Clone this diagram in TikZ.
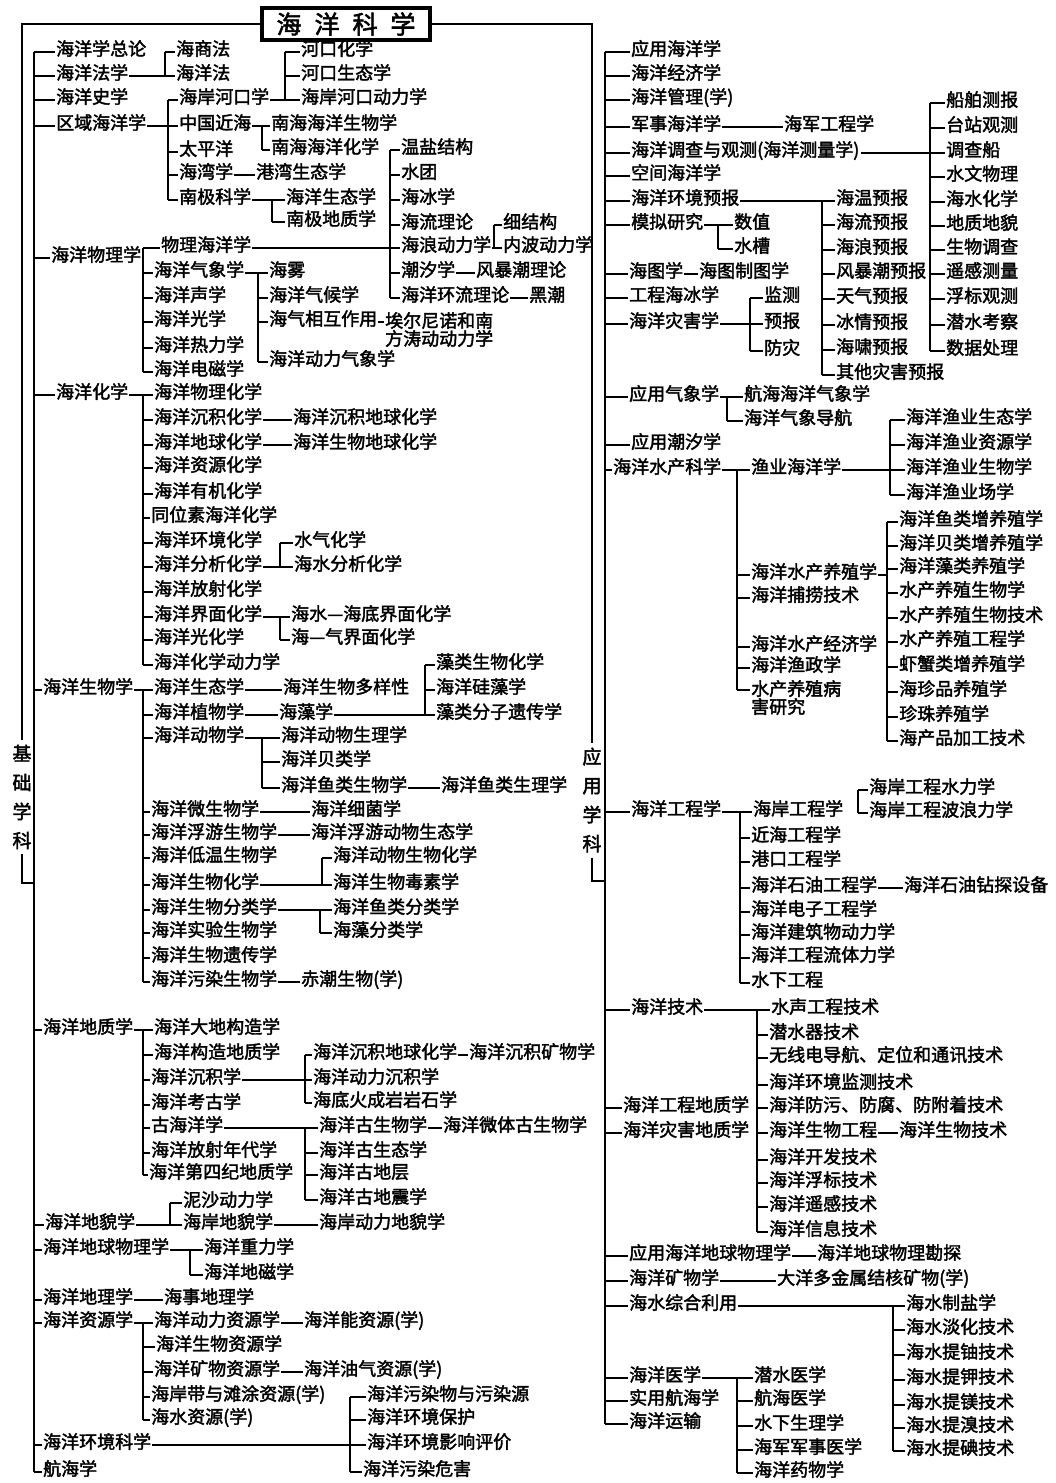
\documentclass[tikz,border=0pt]{standalone}
\usepackage{fontspec}
\setmainfont{Noto Sans CJK SC}[FakeBold=2.2]
\usetikzlibrary{calc}
\newcommand{\ocsize}{\fontsize{18}{18}\selectfont}
\newcommand{\octitlesize}{\fontsize{25}{26}\selectfont}
\newcommand{\ocsidesize}{\fontsize{19}{29}\selectfont}
\tikzset{
  ocbase/.style={anchor=west, inner xsep=1pt, inner ysep=0pt, font=\ocsize},
  ocitem/.style={ocbase, text height=0.84em, text depth=0.16em},
  ocwrap/.style={ocbase, anchor=north west, align=left},
  oclink/.style={line width=1.8pt},
  octitle/.style={draw, line width=3.2pt, minimum width=168pt, minimum height=32pt, inner sep=0pt, font=\octitlesize},
  ocside/.style={align=center, inner xsep=0pt, inner ysep=5pt, font=\ocsidesize}
}
\begin{document}
\begin{tikzpicture}[x=1pt,y=-1pt]
  \useasboundingbox (0,0) rectangle (1055,1483);

  \node[octitle] (title) at (346,24) {海\hspace{13pt}洋\hspace{13pt}科\hspace{13pt}学};
  \node[ocside] (lside) at (22,797) {基\\础\\学\\科};
  \node[ocside] (rside) at (592,800) {应\\用\\学\\科};
  \coordinate (kL) at (34,0);
  \coordinate (jL) at (34,883);
  \coordinate (kR) at (605,0);
  \coordinate (jR) at (605,881);
  \draw[oclink] (title.west) -| (lside.north);
  \draw[oclink] (lside.south) |- (jL);
  \draw[oclink] (title.east) -| (rside.north);
  \draw[oclink] (rside.south) |- (jR);

  % 基础学科
  \node[ocitem] (L1) at (55,52) {海洋学总论};
  \node[ocitem] (L2) at (55,76) {海洋法学};
  \node[ocitem] (L3) at (55,100) {海洋史学};
  \node[ocitem] (L4) at (55,126) {区域海洋学};
  \node[ocitem] (L5) at (50,258) {海洋物理学};
  \node[ocitem] (L6) at (55,395) {海洋化学};
  \node[ocitem] (L7) at (42,690) {海洋生物学};
  \node[ocitem] (L8) at (42,1030) {海洋地质学};
  \node[ocitem] (L9) at (44,1225) {海洋地貌学};
  \node[ocitem] (L10) at (42,1250) {海洋地球物理学};
  \node[ocitem] (L11) at (42,1300) {海洋地理学};
  \node[ocitem] (L12) at (42,1323) {海洋资源学};
  \node[ocitem] (L13) at (42,1445) {海洋环境科学};
  \node[ocitem] (L14) at (42,1472) {航海学};
  \draw[oclink] (kL |- L1.west) -- (kL |- L14.west);
  \foreach \n in {L1,L2,L3,L4,L5,L6,L7,L8,L9,L10,L11,L12,L13,L14}
    \draw[oclink] (kL |- \n.west) -- (\n.west);

  \coordinate (k2) at (165,0);
  \node[ocitem] (L2a) at (175,52) {海商法};
  \node[ocitem] (L2b) at (175,76) {海洋法};
  \draw[oclink] (L2.east) -- (L2.east -| k2);
  \draw[oclink] (k2 |- L2a.west) -- (k2 |- L2b.west);
  \foreach \n in {L2a,L2b} \draw[oclink] (k2 |- \n.west) -- (\n.west);

  \coordinate (k4) at (168,0);
  \node[ocitem] (L4a) at (178,100) {海岸河口学};
  \node[ocitem] (L4b) at (178,126) {中国近海};
  \node[ocitem] (L4c) at (178,152) {太平洋};
  \node[ocitem] (L4d) at (178,175) {海湾学};
  \node[ocitem] (L4e) at (178,200) {南极科学};
  \draw[oclink] (L4.east) -- (L4.east -| k4);
  \draw[oclink] (k4 |- L4a.west) -- (k4 |- L4e.west);
  \foreach \n in {L4a,L4b,L4c,L4d,L4e} \draw[oclink] (k4 |- \n.west) -- (\n.west);
  \node[ocitem] (L4d1) at (255,175) {港湾生态学};
  \draw[oclink] (L4d.east) -- (L4d1.west);

  \coordinate (k4a) at (285,0);
  \node[ocitem] (L4a1) at (300,52) {河口化学};
  \node[ocitem] (L4a2) at (300,76) {河口生态学};
  \node[ocitem] (L4a3) at (300,100) {海岸河口动力学};
  \draw[oclink] (L4a.east) -- (L4a.east -| k4a);
  \draw[oclink] (k4a |- L4a1.west) -- (k4a |- L4a3.west);
  \foreach \n in {L4a1,L4a2,L4a3} \draw[oclink] (k4a |- \n.west) -- (\n.west);

  \coordinate (k4b) at (262,0);
  \node[ocitem] (L4b1) at (270,126) {南海海洋生物学};
  \node[ocitem] (L4b2) at (270,150) {南海海洋化学};
  \draw[oclink] (L4b.east) -- (L4b.east -| k4b);
  \draw[oclink] (k4b |- L4b1.west) -- (k4b |- L4b2.west);
  \foreach \n in {L4b1,L4b2} \draw[oclink] (k4b |- \n.west) -- (\n.west);

  \coordinate (k4e) at (272,0);
  \node[ocitem] (L4e1) at (285,200) {海洋生态学};
  \node[ocitem] (L4e2) at (285,222) {南极地质学};
  \draw[oclink] (L4e.east) -- (L4e.east -| k4e);
  \draw[oclink] (k4e |- L4e1.west) -- (k4e |- L4e2.west);
  \foreach \n in {L4e1,L4e2} \draw[oclink] (k4e |- \n.west) -- (\n.west);

  \coordinate (k5) at (143,0);
  \node[ocitem] (L5a) at (160,248) {物理海洋学};
  \node[ocitem] (L5b) at (153,273) {海洋气象学};
  \node[ocitem] (L5c) at (153,298) {海洋声学};
  \node[ocitem] (L5d) at (153,322) {海洋光学};
  \node[ocitem] (L5e) at (153,348) {海洋热力学};
  \node[ocitem] (L5f) at (153,372) {海洋电磁学};
  \draw[oclink] (L5.east) -- (L5.east -| k5);
  \draw[oclink] (k5 |- L5a.west) -- (k5 |- L5f.west);
  \foreach \n in {L5a,L5b,L5c,L5d,L5e,L5f} \draw[oclink] (k5 |- \n.west) -- (\n.west);

  \coordinate (k5a) at (390,0);
  \node[ocitem] (L5a1) at (400,150) {温盐结构};
  \node[ocitem] (L5a2) at (400,175) {水团};
  \node[ocitem] (L5a3) at (400,200) {海冰学};
  \node[ocitem] (L5a4) at (400,225) {海流理论};
  \node[ocitem] (L5a5) at (400,248) {海浪动力学};
  \node[ocitem] (L5a6) at (400,273) {潮汐学};
  \node[ocitem] (L5a7) at (400,298) {海洋环流理论};
  \draw[oclink] (L5a.east) -- (L5a.east -| k5a);
  \draw[oclink] (k5a |- L5a1.west) -- (k5a |- L5a7.west);
  \foreach \n in {L5a1,L5a2,L5a3,L5a4,L5a5,L5a6,L5a7} \draw[oclink] (k5a |- \n.west) -- (\n.west);
  \coordinate (k5a5) at (494,0);
  \node[ocitem] (L5a5a) at (502,225) {细结构};
  \node[ocitem] (L5a5b) at (502,248) {内波动力学};
  \draw[oclink] (L5a5.east) -- (L5a5.east -| k5a5);
  \draw[oclink] (k5a5 |- L5a5a.west) -- (k5a5 |- L5a5b.west);
  \foreach \n in {L5a5a,L5a5b} \draw[oclink] (k5a5 |- \n.west) -- (\n.west);
  \node[ocitem] (L5a6a) at (475,273) {风暴潮理论};
  \draw[oclink] (L5a6.east) -- (L5a6a.west);
  \node[ocitem] (L5a7a) at (528,298) {黑潮};
  \draw[oclink] (L5a7.east) -- (L5a7a.west);

  \coordinate (k5b) at (258,0);
  \node[ocitem] (L5b1) at (268,273) {海雾};
  \node[ocitem] (L5b2) at (268,298) {海洋气候学};
  \node[ocitem] (L5b3) at (268,322) {海气相互作用};
  \node[ocitem] (L5b4) at (268,362) {海洋动力气象学};
  \draw[oclink] (L5b.east) -- (L5b.east -| k5b);
  \draw[oclink] (k5b |- L5b1.west) -- (k5b |- L5b4.west);
  \foreach \n in {L5b1,L5b2,L5b3,L5b4} \draw[oclink] (k5b |- \n.west) -- (\n.west);
  \node[ocwrap] (L5b3a) at (384,312) {埃尔尼诺和南\\方涛动动力学};
  \draw[oclink] (L5b3.east) -- (L5b3.east -| L5b3a.west);

  \coordinate (k6) at (143,0);
  \node[ocitem] (L6a) at (153,395) {海洋物理化学};
  \node[ocitem] (L6b) at (153,420) {海洋沉积化学};
  \node[ocitem] (L6c) at (153,445) {海洋地球化学};
  \node[ocitem] (L6d) at (153,468) {海洋资源化学};
  \node[ocitem] (L6e) at (153,494) {海洋有机化学};
  \node[ocitem] (L6f) at (150,518) {同位素海洋化学};
  \node[ocitem] (L6g) at (153,543) {海洋环境化学};
  \node[ocitem] (L6h) at (153,567) {海洋分析化学};
  \node[ocitem] (L6i) at (153,592) {海洋放射化学};
  \node[ocitem] (L6j) at (153,617) {海洋界面化学};
  \node[ocitem] (L6k) at (153,640) {海洋光化学};
  \node[ocitem] (L6l) at (153,665) {海洋化学动力学};
  \draw[oclink] (L6.east) -- (L6.east -| k6);
  \draw[oclink] (k6 |- L6a.west) -- (k6 |- L6l.west);
  \foreach \n in {L6a,L6b,L6c,L6d,L6e,L6f,L6g,L6h,L6i,L6j,L6k,L6l} \draw[oclink] (k6 |- \n.west) -- (\n.west);
  \node[ocitem] (L6b1) at (292,420) {海洋沉积地球化学};
  \draw[oclink] (L6b.east) -- (L6b1.west);
  \node[ocitem] (L6c1) at (292,445) {海洋生物地球化学};
  \draw[oclink] (L6c.east) -- (L6c1.west);
  \coordinate (k6h) at (280,0);
  \node[ocitem] (L6h1) at (293,543) {水气化学};
  \node[ocitem] (L6h2) at (293,567) {海水分析化学};
  \draw[oclink] (L6h.east) -- (L6h.east -| k6h);
  \draw[oclink] (k6h |- L6h1.west) -- (k6h |- L6h2.west);
  \foreach \n in {L6h1,L6h2} \draw[oclink] (k6h |- \n.west) -- (\n.west);
  \coordinate (k6j) at (280,0);
  \node[ocitem] (L6j1) at (290,617) {海水—海底界面化学};
  \node[ocitem] (L6j2) at (290,640) {海—气界面化学};
  \draw[oclink] (L6j.east) -- (L6j.east -| k6j);
  \draw[oclink] (k6j |- L6j1.west) -- (k6j |- L6j2.west);
  \foreach \n in {L6j1,L6j2} \draw[oclink] (k6j |- \n.west) -- (\n.west);

  \coordinate (k7) at (143,0);
  \node[ocitem] (L7a) at (153,690) {海洋生态学};
  \node[ocitem] (L7b) at (153,715) {海洋植物学};
  \node[ocitem] (L7c) at (153,738) {海洋动物学};
  \node[ocitem] (L7d) at (150,812) {海洋微生物学};
  \node[ocitem] (L7e) at (150,835) {海洋浮游生物学};
  \node[ocitem] (L7f) at (150,858) {海洋低温生物学};
  \node[ocitem] (L7g) at (150,885) {海洋生物化学};
  \node[ocitem] (L7h) at (150,910) {海洋生物分类学};
  \node[ocitem] (L7i) at (150,933) {海洋实验生物学};
  \node[ocitem] (L7j) at (150,958) {海洋生物遗传学};
  \node[ocitem] (L7k) at (150,982) {海洋污染生物学};
  \draw[oclink] (L7.east) -- (L7.east -| k7);
  \draw[oclink] (k7 |- L7a.west) -- (k7 |- L7k.west);
  \foreach \n in {L7a,L7b,L7c,L7d,L7e,L7f,L7g,L7h,L7i,L7j,L7k} \draw[oclink] (k7 |- \n.west) -- (\n.west);
  \node[ocitem] (L7a1) at (282,690) {海洋生物多样性};
  \draw[oclink] (L7a.east) -- (L7a1.west);
  \node[ocitem] (L7b1) at (278,715) {海藻学};
  \draw[oclink] (L7b.east) -- (L7b1.west);
  \coordinate (k7b) at (425,0);
  \node[ocitem] (L7b1a) at (435,665) {藻类生物化学};
  \node[ocitem] (L7b1b) at (435,690) {海洋硅藻学};
  \node[ocitem] (L7b1c) at (435,715) {藻类分子遗传学};
  \draw[oclink] (L7b1.east) -- (L7b1.east -| k7b);
  \draw[oclink] (k7b |- L7b1a.west) -- (k7b |- L7b1c.west);
  \foreach \n in {L7b1a,L7b1b,L7b1c} \draw[oclink] (k7b |- \n.west) -- (\n.west);
  \coordinate (k7c) at (262,0);
  \node[ocitem] (L7c1) at (280,738) {海洋动物生理学};
  \node[ocitem] (L7c2) at (280,762) {海洋贝类学};
  \node[ocitem] (L7c3) at (280,788) {海洋鱼类生物学};
  \draw[oclink] (L7c.east) -- (L7c.east -| k7c);
  \draw[oclink] (k7c |- L7c1.west) -- (k7c |- L7c3.west);
  \foreach \n in {L7c1,L7c2,L7c3} \draw[oclink] (k7c |- \n.west) -- (\n.west);
  \node[ocitem] (L7c3a) at (440,788) {海洋鱼类生理学};
  \draw[oclink] (L7c3.east) -- (L7c3a.west);
  \node[ocitem] (L7d1) at (310,812) {海洋细菌学};
  \draw[oclink] (L7d.east) -- (L7d1.west);
  \node[ocitem] (L7e1) at (310,835) {海洋浮游动物生态学};
  \draw[oclink] (L7e.east) -- (L7e1.west);
  \coordinate (k7g) at (322,0);
  \node[ocitem] (L7g1) at (332,858) {海洋动物生物化学};
  \node[ocitem] (L7g2) at (332,885) {海洋生物毒素学};
  \draw[oclink] (L7g.east) -- (L7g.east -| k7g);
  \draw[oclink] (k7g |- L7g1.west) -- (k7g |- L7g2.west);
  \foreach \n in {L7g1,L7g2} \draw[oclink] (k7g |- \n.west) -- (\n.west);
  \coordinate (k7h) at (320,0);
  \node[ocitem] (L7h1) at (332,910) {海洋鱼类分类学};
  \node[ocitem] (L7h2) at (332,933) {海藻分类学};
  \draw[oclink] (L7h.east) -- (L7h.east -| k7h);
  \draw[oclink] (k7h |- L7h1.west) -- (k7h |- L7h2.west);
  \foreach \n in {L7h1,L7h2} \draw[oclink] (k7h |- \n.west) -- (\n.west);
  \node[ocitem] (L7k1) at (300,982) {赤潮生物(学)};
  \draw[oclink] (L7k.east) -- (L7k1.west);

  \coordinate (k8) at (143,0);
  \node[ocitem] (L8a) at (153,1030) {海洋大地构造学};
  \node[ocitem] (L8b) at (153,1055) {海洋构造地质学};
  \node[ocitem] (L8c) at (150,1080) {海洋沉积学};
  \node[ocitem] (L8d) at (150,1105) {海洋考古学};
  \node[ocitem] (L8e) at (150,1128) {古海洋学};
  \node[ocitem] (L8f) at (150,1153) {海洋放射年代学};
  \node[ocitem] (L8g) at (148,1175) {海洋第四纪地质学};
  \draw[oclink] (L8.east) -- (L8.east -| k8);
  \draw[oclink] (k8 |- L8a.west) -- (k8 |- L8g.west);
  \foreach \n in {L8a,L8b,L8c,L8d,L8e,L8f,L8g} \draw[oclink] (k8 |- \n.west) -- (\n.west);
  \coordinate (k8c) at (305,0);
  \node[ocitem] (L8c1) at (312,1055) {海洋沉积地球化学};
  \node[ocitem] (L8c2) at (312,1080) {海洋动力沉积学};
  \node[ocitem] (L8c3) at (312,1103) {海底火成岩岩石学};
  \draw[oclink] (L8c.east) -- (L8c.east -| k8c);
  \draw[oclink] (k8c |- L8c1.west) -- (k8c |- L8c3.west);
  \foreach \n in {L8c1,L8c2,L8c3} \draw[oclink] (k8c |- \n.west) -- (\n.west);
  \node[ocitem] (L8c1a) at (468,1055) {海洋沉积矿物学};
  \draw[oclink] (L8c1.east) -- (L8c1a.west);
  \coordinate (k8e) at (305,0);
  \node[ocitem] (L8e1) at (318,1128) {海洋古生物学};
  \node[ocitem] (L8e2) at (318,1153) {海洋古生态学};
  \node[ocitem] (L8e3) at (318,1175) {海洋古地层};
  \node[ocitem] (L8e4) at (318,1200) {海洋古地震学};
  \draw[oclink] (L8e.east) -- (L8e.east -| k8e);
  \draw[oclink] (k8e |- L8e1.west) -- (k8e |- L8e4.west);
  \foreach \n in {L8e1,L8e2,L8e3,L8e4} \draw[oclink] (k8e |- \n.west) -- (\n.west);
  \node[ocitem] (L8e1a) at (442,1128) {海洋微体古生物学};
  \draw[oclink] (L8e1.east) -- (L8e1a.west);

  \coordinate (k9) at (170,0);
  \node[ocitem] (L9a) at (182,1203) {泥沙动力学};
  \node[ocitem] (L9b) at (182,1225) {海岸地貌学};
  \draw[oclink] (L9.east) -- (L9.east -| k9);
  \draw[oclink] (k9 |- L9a.west) -- (k9 |- L9b.west);
  \foreach \n in {L9a,L9b} \draw[oclink] (k9 |- \n.west) -- (\n.west);
  \node[ocitem] (L9b1) at (318,1225) {海岸动力地貌学};
  \draw[oclink] (L9b.east) -- (L9b1.west);

  \coordinate (k10) at (190,0);
  \node[ocitem] (L10a) at (203,1250) {海洋重力学};
  \node[ocitem] (L10b) at (203,1275) {海洋地磁学};
  \draw[oclink] (L10.east) -- (L10.east -| k10);
  \draw[oclink] (k10 |- L10a.west) -- (k10 |- L10b.west);
  \foreach \n in {L10a,L10b} \draw[oclink] (k10 |- \n.west) -- (\n.west);

  \node[ocitem] (L11a) at (163,1300) {海事地理学};
  \draw[oclink] (L11.east) -- (L11a.west);

  \coordinate (k12) at (143,0);
  \node[ocitem] (L12a) at (153,1323) {海洋动力资源学};
  \node[ocitem] (L12b) at (155,1347) {海洋生物资源学};
  \node[ocitem] (L12c) at (153,1372) {海洋矿物资源学};
  \node[ocitem] (L12d) at (150,1397) {海岸带与滩涂资源(学)};
  \node[ocitem] (L12e) at (150,1420) {海水资源(学)};
  \draw[oclink] (L12.east) -- (L12.east -| k12);
  \draw[oclink] (k12 |- L12a.west) -- (k12 |- L12e.west);
  \foreach \n in {L12a,L12b,L12c,L12d,L12e} \draw[oclink] (k12 |- \n.west) -- (\n.west);
  \node[ocitem] (L12a1) at (303,1323) {海洋能资源(学)};
  \draw[oclink] (L12a.east) -- (L12a1.west);
  \node[ocitem] (L12c1) at (303,1372) {海洋油气资源(学)};
  \draw[oclink] (L12c.east) -- (L12c1.west);

  \coordinate (k13) at (350,0);
  \node[ocitem] (L13a) at (366,1397) {海洋污染物与污染源};
  \node[ocitem] (L13b) at (366,1420) {海洋环境保护};
  \node[ocitem] (L13c) at (366,1445) {海洋环境影响评价};
  \node[ocitem] (L13d) at (362,1472) {海洋污染危害};
  \draw[oclink] (L13.east) -- (L13.east -| k13);
  \draw[oclink] (k13 |- L13a.west) -- (k13 |- L13d.west);
  \foreach \n in {L13a,L13b,L13c,L13d} \draw[oclink] (k13 |- \n.west) -- (\n.west);

  % 应用学科
  \node[ocitem] (R1) at (630,52) {应用海洋学};
  \node[ocitem] (R2) at (630,76) {海洋经济学};
  \node[ocitem] (R3) at (630,100) {海洋管理(学)};
  \node[ocitem] (R4) at (630,127) {军事海洋学};
  \node[ocitem] (R5) at (630,153) {海洋调查与观测(海洋测量学)};
  \node[ocitem] (R6) at (630,176) {空间海洋学};
  \node[ocitem] (R7) at (630,201) {海洋环境预报};
  \node[ocitem] (R8) at (630,225) {模拟研究};
  \node[ocitem] (R9) at (628,274) {海图学};
  \node[ocitem] (R10) at (628,298) {工程海冰学};
  \node[ocitem] (R11) at (628,324) {海洋灾害学};
  \node[ocitem] (R12) at (628,397) {应用气象学};
  \node[ocitem] (R13) at (630,445) {应用潮汐学};
  \node[ocitem] (R14) at (612,470) {海洋水产科学};
  \node[ocitem] (R15) at (630,812) {海洋工程学};
  \node[ocitem] (R16) at (630,1010) {海洋技术};
  \node[ocitem] (R17) at (622,1108) {海洋工程地质学};
  \node[ocitem] (R18) at (622,1133) {海洋灾害地质学};
  \node[ocitem] (R19) at (628,1256) {应用海洋地球物理学};
  \node[ocitem] (R20) at (628,1281) {海洋矿物学};
  \node[ocitem] (R21) at (628,1306) {海水综合利用};
  \node[ocitem] (R22) at (628,1378) {海洋医学};
  \node[ocitem] (R23) at (628,1401) {实用航海学};
  \node[ocitem] (R24) at (628,1424) {海洋运输};
  \draw[oclink] (kR |- R1.west) -- (kR |- R24.west);
  \foreach \n in {R1,R2,R3,R4,R5,R6,R7,R8,R9,R10,R11,R12,R13,R14,R15,R16,R17,R18,R19,R20,R21,R22,R23,R24}
    \draw[oclink] (kR |- \n.west) -- (\n.west);

  \node[ocitem] (R4a) at (783,127) {海军工程学};
  \draw[oclink] (R4.east) -- (R4a.west);

  \coordinate (kR5) at (930,0);
  \node[ocitem] (R5a) at (945,103) {船舶测报};
  \node[ocitem] (R5b) at (945,128) {台站观测};
  \node[ocitem] (R5c) at (945,153) {调查船};
  \node[ocitem] (R5d) at (945,177) {水文物理};
  \node[ocitem] (R5e) at (945,202) {海水化学};
  \node[ocitem] (R5f) at (945,226) {地质地貌};
  \node[ocitem] (R5g) at (945,250) {生物调查};
  \node[ocitem] (R5h) at (945,274) {遥感测量};
  \node[ocitem] (R5i) at (945,299) {浮标观测};
  \node[ocitem] (R5j) at (945,325) {潜水考察};
  \node[ocitem] (R5k) at (945,351) {数据处理};
  \draw[oclink] (R5.east) -- (R5.east -| kR5);
  \draw[oclink] (kR5 |- R5a.west) -- (kR5 |- R5k.west);
  \foreach \n in {R5a,R5b,R5c,R5d,R5e,R5f,R5g,R5h,R5i,R5j,R5k} \draw[oclink] (kR5 |- \n.west) -- (\n.west);

  \coordinate (kR7) at (822,0);
  \node[ocitem] (R7a) at (835,201) {海温预报};
  \node[ocitem] (R7b) at (835,225) {海流预报};
  \node[ocitem] (R7c) at (835,250) {海浪预报};
  \node[ocitem] (R7d) at (835,274) {风暴潮预报};
  \node[ocitem] (R7e) at (835,299) {天气预报};
  \node[ocitem] (R7f) at (835,325) {冰情预报};
  \node[ocitem] (R7g) at (835,350) {海啸预报};
  \node[ocitem] (R7h) at (835,375) {其他灾害预报};
  \draw[oclink] (R7.east) -- (R7.east -| kR7);
  \draw[oclink] (kR7 |- R7a.west) -- (kR7 |- R7h.west);
  \foreach \n in {R7a,R7b,R7c,R7d,R7e,R7f,R7g,R7h} \draw[oclink] (kR7 |- \n.west) -- (\n.west);

  \coordinate (kR8) at (718,0);
  \node[ocitem] (R8a) at (733,225) {数值};
  \node[ocitem] (R8b) at (733,249) {水槽};
  \draw[oclink] (R8.east) -- (R8.east -| kR8);
  \draw[oclink] (kR8 |- R8a.west) -- (kR8 |- R8b.west);
  \foreach \n in {R8a,R8b} \draw[oclink] (kR8 |- \n.west) -- (\n.west);

  \node[ocitem] (R9a) at (698,274) {海图制图学};
  \draw[oclink] (R9.east) -- (R9a.west);

  \coordinate (kR11) at (750,0);
  \node[ocitem] (R11a) at (763,298) {监测};
  \node[ocitem] (R11b) at (763,324) {预报};
  \node[ocitem] (R11c) at (763,351) {防灾};
  \draw[oclink] (R11.east) -- (R11.east -| kR11);
  \draw[oclink] (kR11 |- R11a.west) -- (kR11 |- R11c.west);
  \foreach \n in {R11a,R11b,R11c} \draw[oclink] (kR11 |- \n.west) -- (\n.west);

  \coordinate (kR12) at (727,0);
  \node[ocitem] (R12a) at (743,397) {航海海洋气象学};
  \node[ocitem] (R12b) at (743,421) {海洋气象导航};
  \draw[oclink] (R12.east) -- (R12.east -| kR12);
  \draw[oclink] (kR12 |- R12a.west) -- (kR12 |- R12b.west);
  \foreach \n in {R12a,R12b} \draw[oclink] (kR12 |- \n.west) -- (\n.west);

  \coordinate (kR14) at (737,0);
  \node[ocitem] (R14a) at (750,470) {渔业海洋学};
  \node[ocitem] (R14b) at (750,575) {海洋水产养殖学};
  \node[ocitem] (R14c) at (750,598) {海洋捕捞技术};
  \node[ocitem] (R14d) at (750,647) {海洋水产经济学};
  \node[ocitem] (R14e) at (750,668) {海洋渔政学};
  \node[ocwrap] (R14f) at (750,680) {水产养殖病\\害研究};
  \coordinate (R14ft) at ([yshift=-10pt]R14f.north west);
  \draw[oclink] (R14.east) -- (R14.east -| kR14);
  \draw[oclink] (kR14 |- R14a.west) -- (kR14 |- R14ft);
  \foreach \n in {R14a,R14b,R14c,R14d,R14e} \draw[oclink] (kR14 |- \n.west) -- (\n.west);
  \draw[oclink] (kR14 |- R14ft) -- (R14ft);
  \coordinate (kR14a) at (890,0);
  \node[ocitem] (R14a1) at (905,420) {海洋渔业生态学};
  \node[ocitem] (R14a2) at (905,445) {海洋渔业资源学};
  \node[ocitem] (R14a3) at (905,470) {海洋渔业生物学};
  \node[ocitem] (R14a4) at (905,495) {海洋渔业场学};
  \draw[oclink] (R14a.east) -- (R14a.east -| kR14a);
  \draw[oclink] (kR14a |- R14a1.west) -- (kR14a |- R14a4.west);
  \foreach \n in {R14a1,R14a2,R14a3,R14a4} \draw[oclink] (kR14a |- \n.west) -- (\n.west);
  \coordinate (kR14b) at (887,0);
  \node[ocitem] (R14b1) at (898,522) {海洋鱼类增养殖学};
  \node[ocitem] (R14b2) at (898,546) {海洋贝类增养殖学};
  \node[ocitem] (R14b3) at (898,569) {海洋藻类养殖学};
  \node[ocitem] (R14b4) at (898,593) {水产养殖生物学};
  \node[ocitem] (R14b5) at (898,618) {水产养殖生物技术};
  \node[ocitem] (R14b6) at (898,642) {水产养殖工程学};
  \node[ocitem] (R14b7) at (898,667) {虾蟹类增养殖学};
  \node[ocitem] (R14b8) at (898,692) {海珍品养殖学};
  \node[ocitem] (R14b9) at (898,717) {珍珠养殖学};
  \node[ocitem] (R14b10) at (898,741) {海产品加工技术};
  \draw[oclink] (R14b.east) -- (R14b.east -| kR14b);
  \draw[oclink] (kR14b |- R14b1.west) -- (kR14b |- R14b10.west);
  \foreach \n in {R14b1,R14b2,R14b3,R14b4,R14b5,R14b6,R14b7,R14b8,R14b9,R14b10} \draw[oclink] (kR14b |- \n.west) -- (\n.west);

  \coordinate (kR15) at (740,0);
  \node[ocitem] (R15a) at (752,812) {海岸工程学};
  \node[ocitem] (R15b) at (750,838) {近海工程学};
  \node[ocitem] (R15c) at (750,862) {港口工程学};
  \node[ocitem] (R15d) at (750,888) {海洋石油工程学};
  \node[ocitem] (R15e) at (750,912) {海洋电子工程学};
  \node[ocitem] (R15f) at (750,935) {海洋建筑物动力学};
  \node[ocitem] (R15g) at (750,958) {海洋工程流体力学};
  \node[ocitem] (R15h) at (750,983) {水下工程};
  \draw[oclink] (R15.east) -- (R15.east -| kR15);
  \draw[oclink] (kR15 |- R15a.west) -- (kR15 |- R15h.west);
  \foreach \n in {R15a,R15b,R15c,R15d,R15e,R15f,R15g,R15h} \draw[oclink] (kR15 |- \n.west) -- (\n.west);
  \coordinate (kR15a) at (858,0);
  \node[ocitem] (R15a1) at (868,790) {海岸工程水力学};
  \node[ocitem] (R15a2) at (868,813) {海岸工程波浪力学};
  \draw[oclink] (kR15a |- R15a1.west) -- (kR15a |- R15a2.west);
  \foreach \n in {R15a1,R15a2} \draw[oclink] (kR15a |- \n.west) -- (\n.west);
  \node[ocitem] (R15d1) at (903,888) {海洋石油钻探设备};
  \draw[oclink] (R15d.east) -- (R15d1.west);

  \coordinate (kR16) at (757,0);
  \node[ocitem] (R16a) at (770,1010) {水声工程技术};
  \node[ocitem] (R16b) at (768,1035) {潜水器技术};
  \node[ocitem] (R16c) at (768,1058) {无线电导航、定位和通讯技术};
  \node[ocitem] (R16d) at (768,1085) {海洋环境监测技术};
  \node[ocitem] (R16e) at (768,1108) {海洋防污、防腐、防附着技术};
  \node[ocitem] (R16f) at (768,1133) {海洋生物工程};
  \node[ocitem] (R16g) at (768,1160) {海洋开发技术};
  \node[ocitem] (R16h) at (768,1183) {海洋浮标技术};
  \node[ocitem] (R16i) at (768,1207) {海洋遥感技术};
  \node[ocitem] (R16j) at (768,1232) {海洋信息技术};
  \draw[oclink] (R16.east) -- (R16.east -| kR16);
  \draw[oclink] (kR16 |- R16a.west) -- (kR16 |- R16j.west);
  \foreach \n in {R16a,R16b,R16c,R16d,R16e,R16f,R16g,R16h,R16i,R16j} \draw[oclink] (kR16 |- \n.west) -- (\n.west);
  \node[ocitem] (R16f1) at (898,1133) {海洋生物技术};
  \draw[oclink] (R16f.east) -- (R16f1.west);

  \node[ocitem] (R19a) at (816,1256) {海洋地球物理勘探};
  \draw[oclink] (R19.east) -- (R19a.west);
  \node[ocitem] (R20a) at (776,1281) {大洋多金属结核矿物(学)};
  \draw[oclink] (R20.east) -- (R20a.west);

  \coordinate (kR21) at (893,0);
  \node[ocitem] (R21a) at (905,1306) {海水制盐学};
  \node[ocitem] (R21b) at (905,1330) {海水淡化技术};
  \node[ocitem] (R21c) at (905,1355) {海水提铀技术};
  \node[ocitem] (R21d) at (905,1380) {海水提钾技术};
  \node[ocitem] (R21e) at (905,1405) {海水提镁技术};
  \node[ocitem] (R21f) at (905,1428) {海水提溴技术};
  \node[ocitem] (R21g) at (905,1451) {海水提碘技术};
  \draw[oclink] (R21.east) -- (R21.east -| kR21);
  \draw[oclink] (kR21 |- R21a.west) -- (kR21 |- R21g.west);
  \foreach \n in {R21a,R21b,R21c,R21d,R21e,R21f,R21g} \draw[oclink] (kR21 |- \n.west) -- (\n.west);

  \coordinate (kR22) at (737,0);
  \node[ocitem] (R22a) at (753,1378) {潜水医学};
  \node[ocitem] (R22b) at (753,1401) {航海医学};
  \node[ocitem] (R22c) at (753,1426) {水下生理学};
  \node[ocitem] (R22d) at (753,1450) {海军军事医学};
  \node[ocitem] (R22e) at (753,1473) {海洋药物学};
  \draw[oclink] (R22.east) -- (R22.east -| kR22);
  \draw[oclink] (kR22 |- R22a.west) -- (kR22 |- R22e.west);
  \foreach \n in {R22a,R22b,R22c,R22d,R22e} \draw[oclink] (kR22 |- \n.west) -- (\n.west);
\end{tikzpicture}
\end{document}
